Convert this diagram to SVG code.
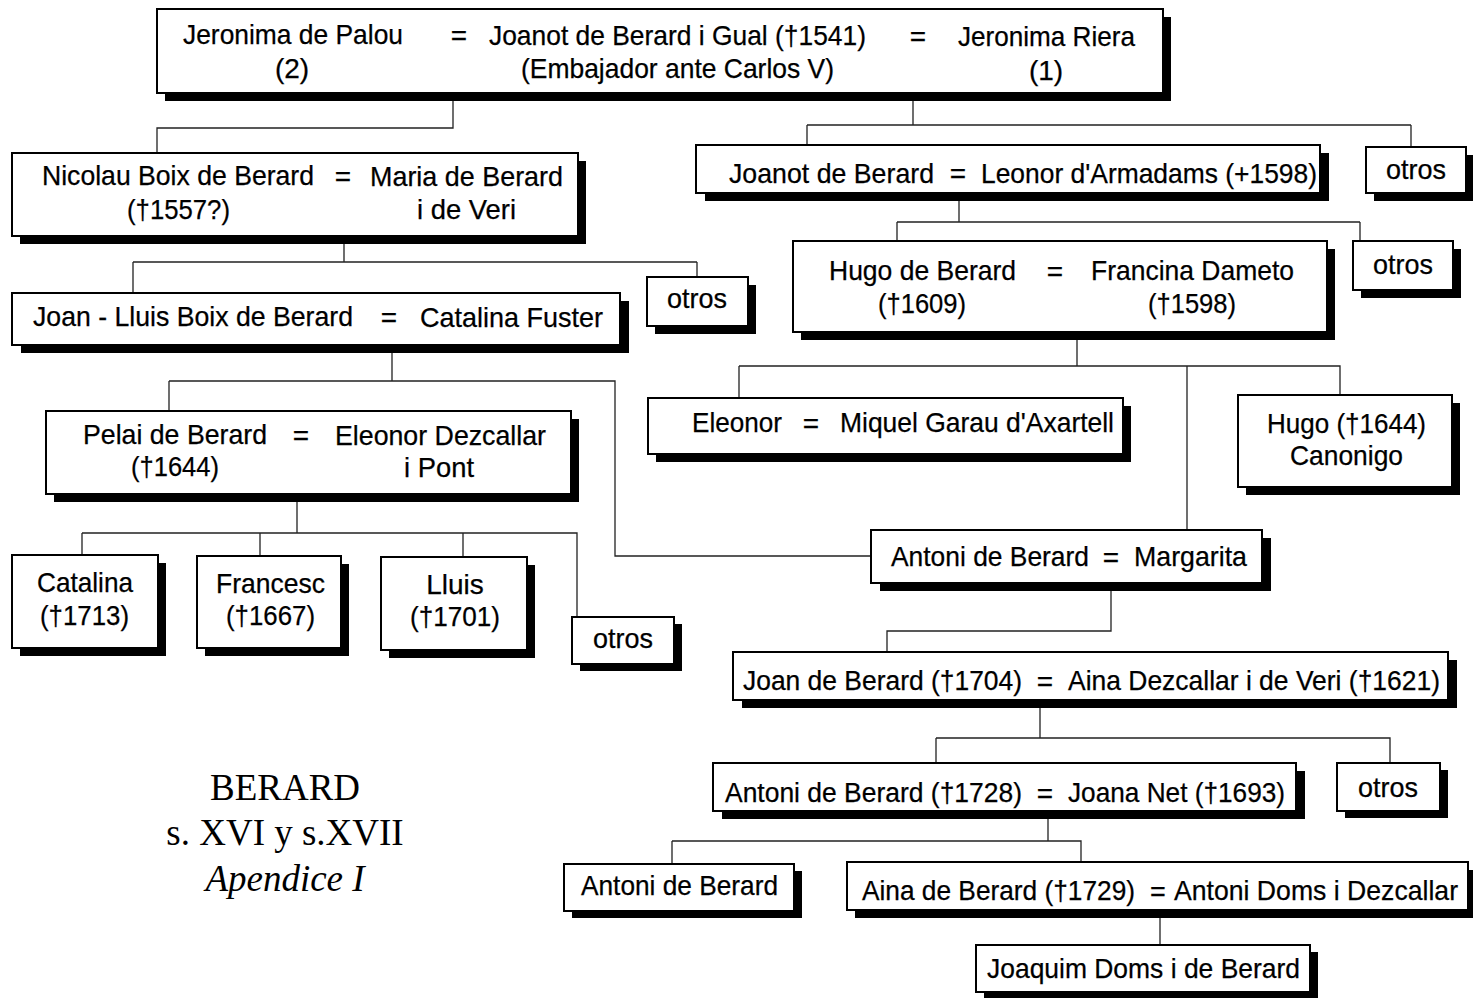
<svg xmlns="http://www.w3.org/2000/svg" width="1473" height="998" viewBox="0 0 1473 998">
<style>
.sh{fill:#000}
.bx{fill:#fff;stroke:#000;stroke-width:2}
.t{font-family:"Liberation Sans",Arial,sans-serif;font-size:28px;fill:#000;stroke:#000;stroke-width:0.25}
.n{font-size:27px}
.m{text-anchor:middle}
.c{fill:none;stroke:#222;stroke-width:1.3}
.s{font-family:"Liberation Serif","Times New Roman",serif;font-size:37px;fill:#000;text-anchor:middle}
</style>
<rect width="1473" height="998" fill="#fff"/>
<g id="connectors">
<path class="c" d="M453,101V128H157V153"/>
<path class="c" d="M913,101V125M807,125H1411M807,125V145M1411,125V147"/>
<path class="c" d="M344,244V262M133,262H697M133,262V293M697,262V277"/>
<path class="c" d="M392,353V381M169,381H615V556H871M169,381V411"/>
<path class="c" d="M297,502V533M82,533H577V617M82,533V555M260,533V556M463,533V557"/>
<path class="c" d="M959,201V222M897,222H1360M897,222V241M1360,222V241"/>
<path class="c" d="M1077,340V366M739,366H1340V395M739,366V398M1187,366V530"/>
<path class="c" d="M1111,591V631H887V652"/>
<path class="c" d="M1040,708V738M936,738H1390V763M936,738V763"/>
<path class="c" d="M1048,819V841M672,841H1081V862M672,841V864"/>
<path class="c" d="M1160,918V945"/>
</g>
<g id="n-top">
<rect class="sh" x="165" y="17" width="1006" height="84"/>
<rect class="bx" x="157" y="9" width="1006" height="84"/>
<text class="t" x="183" y="44" textLength="220" lengthAdjust="spacingAndGlyphs">Jeronima de Palou</text>
<text class="t m" x="459" y="45">=</text>
<text class="t" x="489" y="45" textLength="377" lengthAdjust="spacingAndGlyphs">Joanot de Berard i Gual (†1541)</text>
<text class="t m" x="918" y="46">=</text>
<text class="t" x="958" y="46" textLength="177" lengthAdjust="spacingAndGlyphs">Jeronima Riera</text>
<text class="t m" x="292" y="78">(2)</text>
<text class="t" x="521" y="78" textLength="313" lengthAdjust="spacingAndGlyphs">(Embajador ante Carlos V)</text>
<text class="t m" x="1046" y="80">(1)</text>
</g>
<g id="n-nicolau">
<rect class="sh" x="20" y="161" width="566" height="83"/>
<rect class="bx" x="12" y="153" width="566" height="83"/>
<text class="t" x="42" y="185" textLength="272" lengthAdjust="spacingAndGlyphs">Nicolau Boix de Berard</text>
<text class="t m" x="343" y="186">=</text>
<text class="t" x="370" y="186" textLength="193" lengthAdjust="spacingAndGlyphs">Maria de Berard</text>
<text class="t" x="127" y="219" textLength="103" lengthAdjust="spacingAndGlyphs">(†1557?)</text>
<text class="t" x="417" y="219" textLength="99" lengthAdjust="spacingAndGlyphs">i de Veri</text>
</g>
<g id="n-otros1">
<rect class="sh" x="655" y="285" width="101" height="49"/>
<rect class="bx" x="647" y="277" width="101" height="49"/>
<text class="t m" x="697" y="308" textLength="60" lengthAdjust="spacingAndGlyphs">otros</text>
</g>
<g id="n-joanlluis">
<rect class="sh" x="21" y="301" width="608" height="52"/>
<rect class="bx" x="12" y="293" width="608" height="52"/>
<text class="t" x="33" y="326" textLength="320" lengthAdjust="spacingAndGlyphs">Joan - Lluis Boix de Berard</text>
<text class="t m" x="389" y="327">=</text>
<text class="t" x="420" y="327" textLength="183" lengthAdjust="spacingAndGlyphs">Catalina Fuster</text>
</g>
<g id="n-pelai">
<rect class="sh" x="54" y="419" width="525" height="83"/>
<rect class="bx" x="46" y="411" width="525" height="83"/>
<text class="t" x="83" y="444" textLength="184" lengthAdjust="spacingAndGlyphs">Pelai de Berard</text>
<text class="t m" x="301" y="445">=</text>
<text class="t" x="335" y="445" textLength="211" lengthAdjust="spacingAndGlyphs">Eleonor Dezcallar</text>
<text class="t" x="131" y="476" textLength="88" lengthAdjust="spacingAndGlyphs">(†1644)</text>
<text class="t" x="404" y="477" textLength="70" lengthAdjust="spacingAndGlyphs">i Pont</text>
</g>
<g id="n-catalina">
<rect class="sh" x="20" y="563" width="146" height="93"/>
<rect class="bx" x="12" y="555" width="146" height="93"/>
<text class="t" x="37" y="592" textLength="96" lengthAdjust="spacingAndGlyphs">Catalina</text>
<text class="t" x="40" y="625" textLength="89" lengthAdjust="spacingAndGlyphs">(†1713)</text>
</g>
<g id="n-francesc">
<rect class="sh" x="205" y="564" width="144" height="92"/>
<rect class="bx" x="197" y="556" width="144" height="92"/>
<text class="t" x="216" y="593" textLength="109" lengthAdjust="spacingAndGlyphs">Francesc</text>
<text class="t" x="226" y="625" textLength="89" lengthAdjust="spacingAndGlyphs">(†1667)</text>
</g>
<g id="n-lluis">
<rect class="sh" x="389" y="565" width="146" height="93"/>
<rect class="bx" x="381" y="557" width="146" height="93"/>
<text class="t m" x="455" y="594">Lluis</text>
<text class="t" x="410" y="626" textLength="90" lengthAdjust="spacingAndGlyphs">(†1701)</text>
</g>
<g id="n-otros2">
<rect class="sh" x="580" y="624" width="102" height="47"/>
<rect class="bx" x="572" y="617" width="102" height="47"/>
<text class="t m" x="623" y="648" textLength="60" lengthAdjust="spacingAndGlyphs">otros</text>
</g>
<g id="n-joanot">
<rect class="sh" x="705" y="153" width="624" height="48"/>
<rect class="bx" x="696" y="145" width="624" height="48"/>
<text class="t" x="729" y="183" textLength="205" lengthAdjust="spacingAndGlyphs">Joanot de Berard</text>
<text class="t m" x="958" y="183">=</text>
<text class="t" x="981" y="183" textLength="336" lengthAdjust="spacingAndGlyphs">Leonor d'Armadams (+1598)</text>
</g>
<g id="n-otros3">
<rect class="sh" x="1374" y="155" width="100" height="46"/>
<rect class="bx" x="1366" y="147" width="100" height="46"/>
<text class="t m" x="1416" y="179" textLength="60" lengthAdjust="spacingAndGlyphs">otros</text>
</g>
<g id="n-hugo">
<rect class="sh" x="801" y="249" width="534" height="91"/>
<rect class="bx" x="793" y="241" width="534" height="91"/>
<text class="t" x="829" y="280" textLength="187" lengthAdjust="spacingAndGlyphs">Hugo de Berard</text>
<text class="t m" x="1055" y="281">=</text>
<text class="t" x="1091" y="280" textLength="203" lengthAdjust="spacingAndGlyphs">Francina Dameto</text>
<text class="t" x="878" y="313" textLength="88" lengthAdjust="spacingAndGlyphs">(†1609)</text>
<text class="t" x="1148" y="313" textLength="88" lengthAdjust="spacingAndGlyphs">(†1598)</text>
</g>
<g id="n-otros4">
<rect class="sh" x="1361" y="249" width="100" height="49"/>
<rect class="bx" x="1353" y="241" width="100" height="49"/>
<text class="t m" x="1403" y="274" textLength="60" lengthAdjust="spacingAndGlyphs">otros</text>
</g>
<g id="n-eleonor">
<rect class="sh" x="656" y="406" width="475" height="56"/>
<rect class="bx" x="648" y="398" width="475" height="56"/>
<text class="t" x="692" y="432" textLength="90" lengthAdjust="spacingAndGlyphs">Eleonor</text>
<text class="t m" x="811" y="433">=</text>
<text class="t" x="840" y="432" textLength="274" lengthAdjust="spacingAndGlyphs">Miquel Garau d'Axartell</text>
</g>
<g id="n-hugo1644">
<rect class="sh" x="1246" y="403" width="214" height="92"/>
<rect class="bx" x="1238" y="395" width="214" height="92"/>
<text class="t" x="1267" y="433" textLength="159" lengthAdjust="spacingAndGlyphs">Hugo (†1644)</text>
<text class="t" x="1290" y="465" textLength="113" lengthAdjust="spacingAndGlyphs">Canonigo</text>
</g>
<g id="n-antoni-margarita">
<rect class="sh" x="880" y="538" width="391" height="53"/>
<rect class="bx" x="871" y="530" width="391" height="53"/>
<text class="t" x="891" y="566" textLength="198" lengthAdjust="spacingAndGlyphs">Antoni de Berard</text>
<text class="t m" x="1111" y="567">=</text>
<text class="t" x="1134" y="566" textLength="113" lengthAdjust="spacingAndGlyphs">Margarita</text>
</g>
<g id="n-joan1704">
<rect class="sh" x="742" y="660" width="715" height="48"/>
<rect class="bx" x="733" y="652" width="715" height="48"/>
<text class="t n" x="743" y="690" textLength="279" lengthAdjust="spacingAndGlyphs">Joan de Berard (†1704)</text>
<text class="t m" x="1045" y="691">=</text>
<text class="t" x="1068" y="690" textLength="372" lengthAdjust="spacingAndGlyphs">Aina Dezcallar i de Veri (†1621)</text>
</g>
<g id="n-antoni1728">
<rect class="sh" x="722" y="771" width="583" height="48"/>
<rect class="bx" x="713" y="763" width="583" height="48"/>
<text class="t n" x="725" y="802" textLength="297" lengthAdjust="spacingAndGlyphs">Antoni de Berard (†1728)</text>
<text class="t m" x="1045" y="803">=</text>
<text class="t" x="1068" y="802" textLength="217" lengthAdjust="spacingAndGlyphs">Joana Net (†1693)</text>
</g>
<g id="n-otros5">
<rect class="sh" x="1345" y="770" width="103" height="48"/>
<rect class="bx" x="1337" y="763" width="103" height="48"/>
<text class="t m" x="1388" y="797" textLength="60" lengthAdjust="spacingAndGlyphs">otros</text>
</g>
<g id="n-antoni-small">
<rect class="sh" x="572" y="871" width="230" height="47"/>
<rect class="bx" x="564" y="864" width="230" height="47"/>
<text class="t" x="581" y="895" textLength="197" lengthAdjust="spacingAndGlyphs">Antoni de Berard</text>
</g>
<g id="n-aina">
<rect class="sh" x="855" y="870" width="621" height="48"/>
<rect class="bx" x="847" y="862" width="621" height="48"/>
<text class="t n" x="862" y="900" textLength="273" lengthAdjust="spacingAndGlyphs">Aina de Berard (†1729)</text>
<text class="t m n" x="1158" y="901">=</text>
<text class="t" x="1174" y="900" textLength="284" lengthAdjust="spacingAndGlyphs">Antoni Doms i Dezcallar</text>
</g>
<g id="n-joaquim">
<rect class="sh" x="984" y="952" width="334" height="47"/>
<rect class="bx" x="976" y="945" width="334" height="47"/>
<text class="t" x="987" y="978" textLength="313" lengthAdjust="spacingAndGlyphs">Joaquim Doms i de Berard</text>
</g>
<g id="title">
<text class="s" x="285" y="800">BERARD</text>
<text class="s" x="285" y="845">s. XVI y s.XVII</text>
<text class="s" x="285" y="891" font-style="italic">Apendice I</text>
</g>
</svg>
